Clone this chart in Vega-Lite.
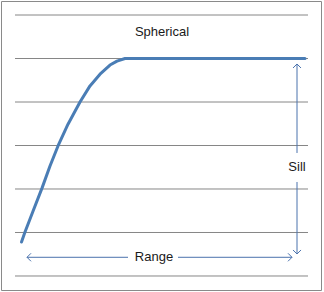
{
  "$schema": "https://vega.github.io/schema/vega-lite/v6.json",
  "width": 320,
  "height": 289,
  "autosize": {"type": "none"},
  "padding": {"left": 1, "top": 1, "right": 3, "bottom": 2},
  "background": "white",
  "config": {"view": {"stroke": "#8a8a8a", "strokeWidth": 1}},
  "datasets": {
    "grid": [{"g": 0}, {"g": 1}, {"g": 2}, {"g": 3}, {"g": 4}, {"g": 5}, {"g": 6}],
    "curve": [
      {"h": 20.5, "gamma": 0.78},
      {"h": 24, "gamma": 1.01},
      {"h": 32, "gamma": 1.49},
      {"h": 41, "gamma": 2.02},
      {"h": 49, "gamma": 2.53},
      {"h": 57, "gamma": 2.99},
      {"h": 67, "gamma": 3.49},
      {"h": 79, "gamma": 4.0},
      {"h": 89, "gamma": 4.37},
      {"h": 99, "gamma": 4.64},
      {"h": 109, "gamma": 4.85},
      {"h": 116, "gamma": 4.94},
      {"h": 124, "gamma": 5.0},
      {"h": 304, "gamma": 5.0}
    ],
    "segments": [
      {"x": 296, "x2": 296, "y": 4.874, "y2": 2.828},
      {"x": 296, "x2": 296, "y": 2.161, "y2": 0.506},
      {"x": 26, "x2": 127, "y": 0.43, "y2": 0.43},
      {"x": 177, "x2": 291, "y": 0.43, "y2": 0.43}
    ],
    "heads": [
      {"x": 296, "y": 4.874, "dir": "up"},
      {"x": 296, "y": 0.506, "dir": "down"},
      {"x": 26, "y": 0.43, "dir": "left"},
      {"x": 291, "y": 0.43, "dir": "right"}
    ],
    "labels": [
      {"x": 161, "y": 5.609, "label": "Spherical"},
      {"x": 296, "y": 2.506, "label": "Sill"},
      {"x": 153, "y": 0.43, "label": "Range"}
    ]
  },
  "layer": [
    {
      "data": {"name": "grid"},
      "mark": {"type": "rule", "color": "#868686", "strokeWidth": 1},
      "encoding": {
        "y": {"field": "g", "type": "quantitative", "scale": {"domain": [-0.322, 6.322], "nice": false, "zero": false}, "axis": null},
        "x": {"datum": 14, "type": "quantitative", "scale": {"domain": [0, 320], "nice": false, "zero": false}, "axis": null},
        "x2": {"datum": 307}
      }
    },
    {
      "data": {"name": "segments"},
      "mark": {"type": "rule", "color": "#4a72ad", "strokeWidth": 1},
      "encoding": {
        "x": {"field": "x", "type": "quantitative"},
        "x2": {"field": "x2"},
        "y": {"field": "y", "type": "quantitative"},
        "y2": {"field": "y2"}
      }
    },
    {
      "data": {"name": "heads"},
      "transform": [{"filter": "datum.dir === 'up'"}],
      "mark": {"type": "point", "shape": "M-1,1L0,0L1,1", "filled": false, "stroke": "#4a72ad", "strokeWidth": 1, "size": 64, "opacity": 1, "angle": 0},
      "encoding": {"x": {"field": "x", "type": "quantitative"}, "y": {"field": "y", "type": "quantitative"}}
    },
    {
      "data": {"name": "heads"},
      "transform": [{"filter": "datum.dir === 'down'"}],
      "mark": {"type": "point", "shape": "M-1,-1L0,0L1,-1", "filled": false, "stroke": "#4a72ad", "strokeWidth": 1, "size": 64, "opacity": 1},
      "encoding": {"x": {"field": "x", "type": "quantitative"}, "y": {"field": "y", "type": "quantitative"}}
    },
    {
      "data": {"name": "heads"},
      "transform": [{"filter": "datum.dir === 'left'"}],
      "mark": {"type": "point", "shape": "M1,-1L0,0L1,1", "filled": false, "stroke": "#4a72ad", "strokeWidth": 1, "size": 64, "opacity": 1},
      "encoding": {"x": {"field": "x", "type": "quantitative"}, "y": {"field": "y", "type": "quantitative"}}
    },
    {
      "data": {"name": "heads"},
      "transform": [{"filter": "datum.dir === 'right'"}],
      "mark": {"type": "point", "shape": "M-1,-1L0,0L-1,1", "filled": false, "stroke": "#4a72ad", "strokeWidth": 1, "size": 64, "opacity": 1},
      "encoding": {"x": {"field": "x", "type": "quantitative"}, "y": {"field": "y", "type": "quantitative"}}
    },
    {
      "data": {"name": "curve"},
      "mark": {"type": "line", "color": "#4a7db5", "strokeWidth": 3, "strokeCap": "round", "strokeJoin": "round"},
      "encoding": {
        "x": {"field": "h", "type": "quantitative"},
        "y": {"field": "gamma", "type": "quantitative"}
      }
    },
    {
      "data": {"name": "labels"},
      "mark": {"type": "text", "font": "Liberation Sans", "fontSize": 13, "color": "#1a1a1a", "align": "center", "baseline": "middle"},
      "encoding": {
        "x": {"field": "x", "type": "quantitative"},
        "y": {"field": "y", "type": "quantitative"},
        "text": {"field": "label"}
      }
    }
  ]
}
